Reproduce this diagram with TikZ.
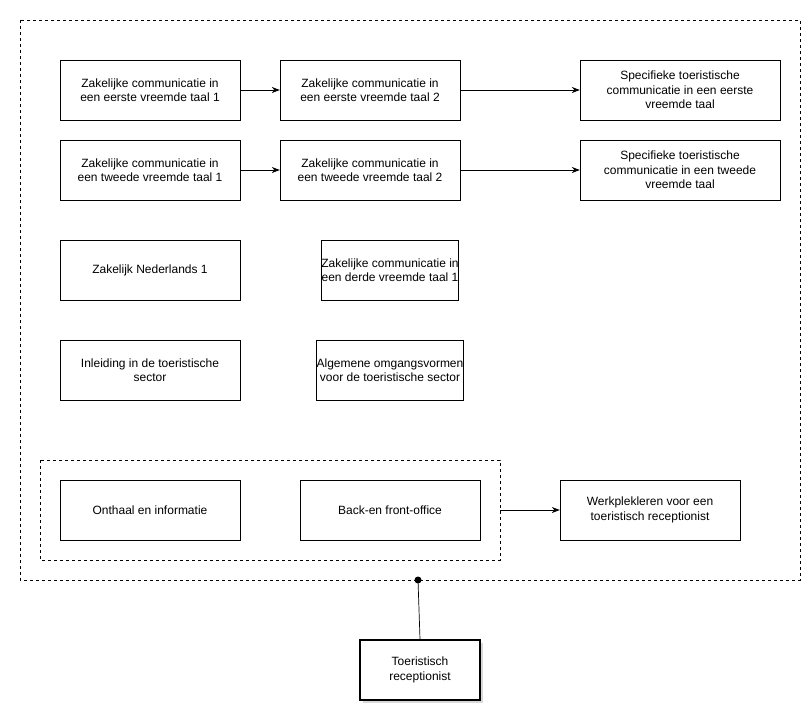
\documentclass[tikz,border=0pt]{standalone}
\usepackage{fontspec}
\setmainfont{Liberation Sans}
\usetikzlibrary{arrows.meta,shadows}
\begin{document}
\begin{tikzpicture}[x=1pt,y=-1pt,
  box/.style={draw,fill=white,align=center,inner sep=0pt,font=\fontsize{12}{14.5}\selectfont},
  arr/.style={-{Stealth[length=8pt,width=6pt]},line width=0.7pt},
  dsh/.style={draw,dashed,line width=0.7pt}]
\useasboundingbox (0,0) rectangle (805,709);
\newcommand{\bx}[6]{\node[box,minimum width=#4-#2,minimum height=#5-#3] (#1) at ({(#2+#4)/2},{(#3+#5)/2}) {#6};}
\path[dsh] (20,20) rectangle (800,580);
\coordinate (dot) at (418,580);
\path[dsh] (40,460) rectangle (500,560);
\coordinate (inr) at (500,510);
\bx{a1}{60}{60}{240}{120}{Zakelijke communicatie in\\een eerste vreemde taal 1}
\bx{a2}{280}{60}{460}{120}{Zakelijke communicatie in\\een eerste vreemde taal 2}
\bx{a3}{580}{60}{780}{120}{Specifieke toeristische\\communicatie in een eerste\\vreemde taal}
\bx{b1}{60}{140}{240}{200}{Zakelijke communicatie in\\een tweede vreemde taal 1}
\bx{b2}{280}{140}{460}{200}{Zakelijke communicatie in\\een tweede vreemde taal 2}
\bx{b3}{580}{140}{780}{200}{Specifieke toeristische\\communicatie in een tweede\\vreemde taal}
\bx{c1}{60}{240}{240}{300}{Zakelijk Nederlands 1}
\bx{c2}{328}{240}{452}{300}{Zakelijke communicatie in\\een derde vreemde taal 1}
\bx{d1}{60}{340}{240}{400}{Inleiding in de toeristische\\sector}
\bx{d2}{328}{340}{452}{400}{Algemene omgangsvormen\\voor de toeristische sector}
\bx{e1}{60}{480}{240}{540}{Onthaal en informatie}
\bx{e2}{300}{480}{480}{540}{Back-en front-office}
\bx{e3}{560}{480}{740}{540}{Werkplekleren voor een\\toeristisch receptionist}
\node[box,line width=1.6pt,minimum width=120,minimum height=60,drop shadow={shadow xshift=3pt,shadow yshift=-3pt,fill=gray!60}] (t) at (420,670) {Toeristisch\\receptionist};
\draw[arr] (a1) -- (a2);
\draw[arr] (a2) -- (a3);
\draw[arr] (b1) -- (b2);
\draw[arr] (b2) -- (b3);
\draw[arr] (inr) -- (e3);
\draw[line width=0.7pt] (t.north) -- (dot);
\fill (dot) circle (3.5);
\end{tikzpicture}
\end{document}
